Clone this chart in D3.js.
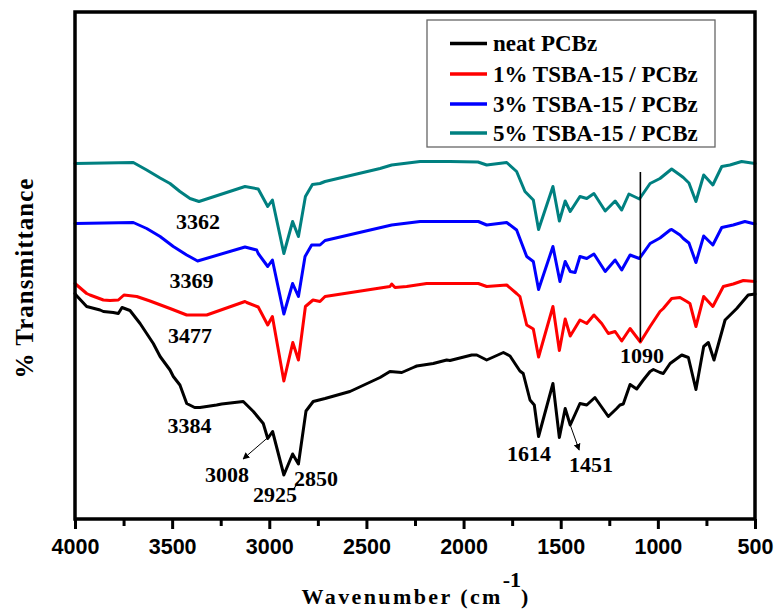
<!DOCTYPE html>
<html>
<head>
<meta charset="utf-8">
<script src="https://cdn.jsdelivr.net/npm/d3@7/dist/d3.min.js"></script>
<style>
  html, body { margin: 0; padding: 0; background: #ffffff; }
  svg { display: block; }
</style>
</head>
<body>
<svg id="chart" width="777" height="616"></svg>
<script>
// FTIR spectra: wavenumber (cm-1) vs. offset transmittance (arbitrary units)
const seriesNames = ["neat PCBz", "1% TSBA-15 / PCBz", "3% TSBA-15 / PCBz", "5% TSBA-15 / PCBz"];
const seriesColors = ["#000000", "#ff0000", "#0000ff", "#008080"];

const xTicks = [4000, 3500, 3000, 2500, 2000, 1500, 1000, 500];
const xMinorTicks = [3750, 3250, 2750, 2250, 1750, 1250, 750];

const neatPCBz = [
  [4000,45.1],[3995,44.8],[3940,42.5],[3871,41.8],[3854,41.5],[3803,41.3],[3777,41.1],
  [3758,42.3],[3717,41.7],[3665,39.1],[3631,37.1],[3597,35.1],[3562,32.5],[3511,29.8],
  [3494,28.5],[3460,26.8],[3425,23.1],[3384,22.3],[3357,22.3],[3271,22.8],[3245,23.0],
  [3134,23.5],[3082,21.5],[3031,19.1],[3008,16.1],[2983,17.5],[2925,8.8],[2880,13.0],
  [2850,11.0],[2811,21.6],[2774,23.5],[2713,24.1],[2585,25.5],[2568,25.8],[2430,28.3],
  [2379,29.5],[2318,29.3],[2259,30.3],[2241,30.6],[2156,31.1],[2087,31.8],[2070,31.7],
  [1958,32.8],[1932,32.8],[1881,31.8],[1795,33.3],[1761,32.6],[1710,29.6],[1693,29.1],
  [1658,23.8],[1636,22.8],[1614,16.5],[1540,27.1],[1507,16.3],[1477,22.1],[1451,18.8],
  [1401,23.1],[1366,22.8],[1324,24.3],[1255,20.5],[1212,22.1],[1195,22.8],[1178,23.0],
  [1143,26.9],[1109,26.0],[1075,27.8],[1040,29.5],[1023,29.9],[989,29.3],[972,29.1],
  [937,31.1],[877,32.8],[843,32.3],[804,25.9],[764,34.5],[740,35.3],[711,31.8],
  [654,39.8],[594,42.1],[535,44.8],[500,45.0]
];

const tsba1 = [
  [4000,47.1],[3940,45.1],[3923,44.8],[3854,43.8],[3820,43.7],[3777,43.8],[3748,44.8],
  [3682,44.5],[3614,43.6],[3511,42.1],[3425,40.8],[3382,40.8],[3322,40.8],[3125,43.5],
  [3116,43.3],[3057,42.4],[3008,38.8],[2984,40.5],[2925,27.6],[2879,35.3],[2850,31.8],
  [2814,42.5],[2775,43.8],[2739,43.5],[2713,44.5],[2379,46.5],[2370,47.0],[2353,46.3],
  [2293,46.5],[2190,47.1],[2070,47.1],[1924,47.1],[1881,46.5],[1778,46.8],[1727,45.1],
  [1710,44.5],[1675,38.8],[1641,38.0],[1614,32.4],[1540,42.5],[1507,33.7],[1477,40.0],
  [1451,36.6],[1401,39.8],[1366,39.1],[1329,40.8],[1289,39.1],[1255,37.1],[1220,37.5],
  [1186,35.6],[1143,38.1],[1090,35.4],[1040,38.5],[989,41.5],[972,42.1],[929,44.1],
  [886,44.3],[851,43.5],[835,43.1],[804,38.5],[764,44.5],[717,42.5],[663,46.5],
  [612,47.0],[560,47.7],[500,47.5]
];

const tsba3 = [
  [4000,59.1],[3700,59.3],[3631,58.1],[3562,56.5],[3494,54.5],[3425,52.8],[3369,51.6],
  [3125,54.4],[3065,53.8],[3057,53.1],[3008,50.5],[2984,51.8],[2925,41.0],[2880,47.1],
  [2850,44.5],[2816,52.5],[2782,54.8],[2739,54.8],[2713,55.7],[2370,58.8],[2224,59.5],
  [2070,59.5],[1924,59.5],[1881,58.8],[1778,59.3],[1727,57.8],[1675,52.5],[1641,51.5],
  [1614,45.9],[1540,54.5],[1504,47.5],[1477,51.5],[1451,49.5],[1426,49.3],[1401,52.5],
  [1366,52.1],[1329,53.0],[1271,49.5],[1220,51.8],[1186,49.8],[1143,52.8],[1095,52.1],
  [1040,55.1],[989,56.2],[937,57.8],[929,57.9],[886,56.8],[869,56.1],[840,55.2],
  [804,51.3],[764,56.6],[717,54.8],[671,58.3],[612,58.8],[552,59.5],[500,59.0]
];

const tsba5 = [
  [4000,71.1],[3700,71.3],[3631,69.8],[3562,68.2],[3511,67.1],[3460,65.5],[3408,64.1],
  [3362,63.5],[3125,66.5],[3057,66.0],[3008,62.5],[2984,63.8],[2925,53.1],[2880,59.5],
  [2850,56.5],[2814,64.5],[2778,66.9],[2739,67.1],[2713,67.5],[2430,70.1],[2370,70.8],
  [2224,71.5],[2070,71.5],[1926,71.4],[1881,70.8],[1778,71.3],[1727,69.5],[1684,65.5],
  [1641,63.8],[1614,57.9],[1540,66.5],[1507,59.6],[1477,63.6],[1451,61.5],[1401,64.5],
  [1366,64.1],[1329,65.1],[1271,61.6],[1220,63.6],[1186,61.8],[1149,65.0],[1095,64.0],
  [1040,67.1],[989,68.1],[929,70.0],[886,68.8],[869,68.3],[840,67.2],[804,63.5],
  [764,68.8],[717,66.8],[671,70.5],[629,70.8],[569,71.5],[500,71.1]
];

const seriesData = [neatPCBz, tsba1, tsba3, tsba5];

// Peak labels: text, anchor wavenumber, anchor transmittance (baseline)
const peakLabels = [
  ["3362", 3367, 58.0], ["3369", 3400, 46.2], ["3477", 3408, 35.2], ["3384", 3411, 17.2],
  ["3008", 3218, 7.4], ["2925", 2971, 3.4], ["2850", 2760, 6.6],
  ["1614", 1663, 11.6], ["1451", 1344, 9.4], ["1090", 1082, 31.2]
];
// Pointer arrows [from, to]
const pointerArrows = [
  [[3010, 16.2], [3135, 12.0]],
  [[1451, 18.8], [1405, 13.8]]
];
const pointerTicks = [
  [[2850, 7.4], [2878, 5.8]]
];
// Marker line at the Si-O-Si band
const markerWn = 1090;
const markerRange = [69.4, 35.4];

const plot = { left: 75, right: 755, top: 12, bottom: 519 };

const svg = d3.select("#chart");

const x = d3.scaleLinear().domain([4000, 500]).range([plot.left, plot.right]);
const y = d3.scaleLinear().domain([0, 101.4]).range([plot.bottom, plot.top]);

// Spectra
const line = d3.line().x(d => x(d[0])).y(d => y(d[1]));
seriesData.forEach((s, i) => {
  svg.append("path")
    .datum(s)
    .attr("d", line)
    .attr("fill", "none")
    .attr("stroke", seriesColors[i])
    .attr("stroke-width", 3)
    .attr("stroke-linejoin", "round")
    .attr("stroke-linecap", "round");
});

// Marker line
svg.append("line")
  .attr("x1", x(markerWn)).attr("x2", x(markerWn))
  .attr("y1", y(markerRange[0])).attr("y2", y(markerRange[1]))
  .attr("stroke", "#000").attr("stroke-width", 1.6);

// Arrowhead
svg.append("defs").append("marker")
  .attr("id", "arrowhead")
  .attr("viewBox", "0 0 10 10")
  .attr("refX", 9).attr("refY", 5)
  .attr("markerWidth", 7).attr("markerHeight", 7)
  .attr("markerUnits", "userSpaceOnUse")
  .attr("orient", "auto")
  .append("path").attr("d", "M0,0 L10,5 L0,10 z").attr("fill", "#000");

pointerArrows.forEach(a => {
  svg.append("line")
    .attr("x1", x(a[0][0])).attr("y1", y(a[0][1]))
    .attr("x2", x(a[1][0])).attr("y2", y(a[1][1]))
    .attr("stroke", "#000").attr("stroke-width", 1)
    .attr("marker-end", "url(#arrowhead)");
});
pointerTicks.forEach(a => {
  svg.append("line")
    .attr("x1", x(a[0][0])).attr("y1", y(a[0][1]))
    .attr("x2", x(a[1][0])).attr("y2", y(a[1][1]))
    .attr("stroke", "#000").attr("stroke-width", 1.2);
});

// Peak labels
svg.append("g").selectAll("text")
  .data(peakLabels)
  .join("text")
  .attr("x", d => x(d[1]))
  .attr("y", d => y(d[2]))
  .attr("text-anchor", "middle")
  .attr("font-family", "'Liberation Serif', 'Times New Roman', serif")
  .attr("font-weight", "bold")
  .attr("font-size", 22)
  .attr("fill", "#000")
  .text(d => d[0]);

// Frame
svg.append("rect")
  .attr("x", plot.left).attr("y", plot.top)
  .attr("width", plot.right - plot.left).attr("height", plot.bottom - plot.top)
  .attr("fill", "none").attr("stroke", "#000").attr("stroke-width", 3.5);

// Bottom axis
const xAxis = d3.axisBottom(x).tickValues(xTicks).tickSize(10).tickPadding(10).tickFormat(d3.format("d"));
const gx = svg.append("g").attr("transform", `translate(0,${plot.bottom})`).call(xAxis);
gx.select(".domain").remove();
gx.selectAll(".tick line").attr("stroke", "#000").attr("stroke-width", 3);
gx.selectAll(".tick text")
  .attr("font-family", "'Liberation Sans', Arial, sans-serif")
  .attr("font-weight", "bold")
  .attr("font-size", 21.5)
  .attr("fill", "#000");

const xMinor = d3.axisBottom(x).tickValues(xMinorTicks).tickSize(7).tickFormat("");
const gxm = svg.append("g").attr("transform", `translate(0,${plot.bottom})`).call(xMinor);
gxm.select(".domain").remove();
gxm.selectAll(".tick line").attr("stroke", "#000").attr("stroke-width", 3);

// Axis titles
const xTitle = svg.append("text")
  .attr("x", (plot.left + plot.right) / 2)
  .attr("y", 604)
  .attr("text-anchor", "middle")
  .attr("font-family", "'Liberation Serif', 'Times New Roman', serif")
  .attr("font-weight", "bold")
  .attr("fill", "#000");
xTitle.append("tspan").attr("font-size", 22).attr("letter-spacing", 2.4).text("Wavenumber (cm");
xTitle.append("tspan").attr("font-size", 22).attr("dy", -17).text("-1");
xTitle.append("tspan").attr("font-size", 22).attr("dy", 17).text(")");

svg.append("text")
  .attr("transform", `translate(33,278) rotate(-90)`)
  .attr("text-anchor", "middle")
  .attr("font-family", "'Liberation Serif', 'Times New Roman', serif")
  .attr("font-weight", "bold")
  .attr("font-size", 25)
  .attr("letter-spacing", 1)
  .attr("fill", "#000")
  .text("% Transmittance");

// Legend
const legend = svg.append("g");
legend.append("rect")
  .attr("x", 427).attr("y", 20).attr("width", 288).attr("height", 127)
  .attr("fill", "#fff").attr("stroke", "#666").attr("stroke-width", 1.3);
const rowY = [43.5, 74, 104, 133];
seriesNames.forEach((name, i) => {
  legend.append("line")
    .attr("x1", 450).attr("x2", 487)
    .attr("y1", rowY[i]).attr("y2", rowY[i])
    .attr("stroke", seriesColors[i]).attr("stroke-width", 3.3);
  legend.append("text")
    .attr("x", 493).attr("y", rowY[i] + 7.5)
    .attr("font-family", "'Liberation Serif', 'Times New Roman', serif")
    .attr("font-weight", "bold")
    .attr("font-size", 23)
    .attr("fill", "#000")
    .text(name);
});
</script>
</body>
</html>
